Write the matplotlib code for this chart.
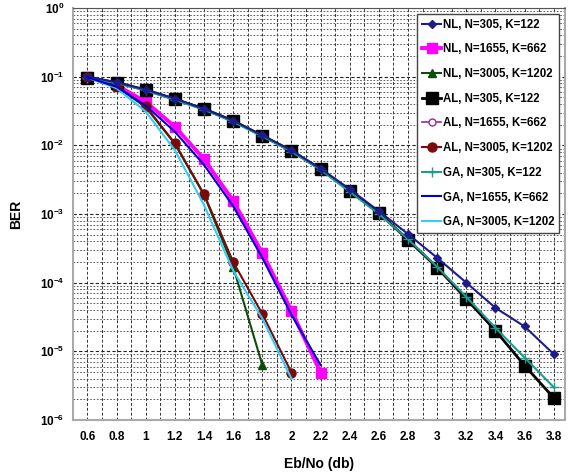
import math
import matplotlib
matplotlib.use("Agg")
import matplotlib.pyplot as plt
from matplotlib.ticker import FixedLocator, FuncFormatter, NullFormatter

plt.rcParams['font.family'] = ['Liberation Sans', 'DejaVu Sans']
plt.rcParams['font.weight'] = 'bold'
plt.rcParams['mathtext.fontset'] = 'custom'
plt.rcParams['mathtext.rm'] = 'Liberation Sans:bold'
plt.rcParams['mathtext.bf'] = 'Liberation Sans:bold'

    #========= DATA ======================================================#

EBNO = [0.6, 0.8, 1.0, 1.2, 1.4, 1.6, 1.8, 2.0, 2.2, 2.4, 2.6, 2.8, 3.0, 3.2, 3.4, 3.6, 3.8]

nl_305 = [0.1, 0.083, 0.065, 0.048, 0.034, 0.023, 0.014, 0.0085, 0.0046, 0.0023, 0.0011,
          5.1e-4, 2.3e-4, 1.0e-4, 4.3e-5, 2.3e-5, 9.1e-6]
al_305 = [0.097, 0.082, 0.064, 0.047, 0.034, 0.0227, 0.0138, 0.0083, 0.0045, 0.0022, 0.00104,
          4.2e-4, 1.66e-4, 5.8e-5, 2.0e-5, 6.2e-6, 2.1e-6]
ga_305 = [0.095, 0.081, 0.063, 0.046, 0.033, 0.022, 0.0135, 0.0081, 0.0044, 0.0021, 0.001,
          4.3e-4, 1.7e-4, 6.2e-5, 2.2e-5, 8.1e-6, 3.0e-6]

nl_1655 = [0.1, 0.075, 0.043, 0.0187, 0.0063, 0.00155, 2.7e-4, 3.9e-5, 4.9e-6]
al_1655 = [0.1, 0.075, 0.043, 0.0185, 0.0062, 0.0015, 2.6e-4, 3.8e-5, 5.0e-6]
ga_1655 = [0.098, 0.071, 0.038, 0.0158, 0.0052, 0.0013, 2.3e-4, 3.4e-5, 6.3e-6]

nl_3005 = [0.1, 0.072, 0.036, 0.0105, 0.0019, 1.7e-4, 6.3e-6]
al_3005 = [0.1, 0.073, 0.037, 0.0107, 0.00194, 2.0e-4, 3.5e-5, 4.9e-6]
ga_3005 = [0.097, 0.068, 0.031, 0.0085, 0.00135, 1.5e-4, 3.0e-5, 4.0e-6]

X_TICKS = [0.6 + 0.2 * i for i in range(17)]
Y_DECADES = list(range(0, -7, -1))

    #========= FIGURE ====================================================#

fig = plt.figure(figsize=(5.74, 4.74), dpi=100)
ax = fig.add_axes([0.127, 0.114, 0.858, 0.869])

ax.plot(EBNO, nl_305, color="#1c1c8c", lw=1.5, marker="D", ms=4, zorder=4,
        label="NL, N=305, K=122")
ax.plot(EBNO[:9], nl_1655, color="#ff00ff", lw=2.8, marker="s", ms=7, zorder=3,
        label="NL, N=1655, K=662")
ax.plot(EBNO[:7], nl_3005, color="#0b4d0b", lw=1.5, marker="^", ms=6, zorder=3,
        label="NL, N=3005, K=1202")
ax.plot(EBNO, al_305, color="black", lw=2.0, marker="s", ms=8.5, zorder=3,
        label="AL, N=305, K=122")
ax.plot(EBNO[:9], al_1655, color="#9a2a9a", lw=1.2, marker="o", ms=5, mfc="white", zorder=2,
        label="AL, N=1655, K=662")
ax.plot(EBNO[:8], al_3005, color="#7a0a0a", lw=1.5, marker="o", ms=6.5, zorder=3,
        label="AL, N=3005, K=1202")
ax.plot(EBNO, ga_305, color="#1f9a8c", lw=1.5, marker="+", ms=7, zorder=3,
        label="GA, N=305, K=122")
ax.plot(EBNO[:9], ga_1655, color="#0000d0", lw=1.5, zorder=4,
        label="GA, N=1655, K=662")
ax.plot(EBNO[:8], ga_3005, color="#33ccf5", lw=1.5, zorder=3,
        label="GA, N=3005, K=1202")

ax.set_yscale("log")
ax.set_ylim(1e-6, 1)
ax.set_xlim(0.5, 3.88)

ax.xaxis.set_major_locator(FixedLocator(X_TICKS))
ax.xaxis.set_major_formatter(FuncFormatter(lambda v, p: "%g" % round(v, 1)))
ax.xaxis.set_minor_locator(FixedLocator([0.5 + 0.1 * i for i in range(34)]))
ax.yaxis.set_major_locator(FixedLocator([10.0 ** d for d in Y_DECADES]))
ax.yaxis.set_minor_locator(FixedLocator([m * 10.0 ** d for d in Y_DECADES[1:]
                                         for m in range(2, 10)]))
ax.yaxis.set_minor_formatter(NullFormatter())
ax.yaxis.set_major_formatter(FuncFormatter(
    lambda v, p: r"$\mathbf{10^{%d}}$" % round(math.log10(v))))

ax.grid(True, which="both", axis="x", ls=(0, (3, 2)), lw=0.7, color="#333333")
ax.grid(True, which="major", axis="y", ls=(0, (3, 2)), lw=0.8, color="#222222")
ax.grid(True, which="minor", axis="y", ls=(0, (2, 2)), lw=0.6, color="#444444")

ax.tick_params(axis="both", which="both", length=0, labelsize=8.5, pad=8)
ax.tick_params(axis="y", pad=6)
for side in ("left", "bottom", "right"):
    ax.spines[side].set_color("#aaaaaa")
    ax.spines[side].set_linewidth(1.5)
ax.spines["top"].set_color("#555555")

ax.set_xlabel("Eb/No (db)", fontsize=10, fontweight="bold", labelpad=10)
ax.set_ylabel("BER", fontsize=10, fontweight="bold", labelpad=12)

leg = ax.legend(loc="upper right", fontsize=8.3, handlelength=1.6, handletextpad=0.15,
                labelspacing=1.1, borderpad=0.45, borderaxespad=0.3, fancybox=False,
                framealpha=1, edgecolor="#444444", bbox_to_anchor=(0.995, 0.995))
leg.get_frame().set_linewidth(1.0)

fig.savefig("out.png", dpi=100)
